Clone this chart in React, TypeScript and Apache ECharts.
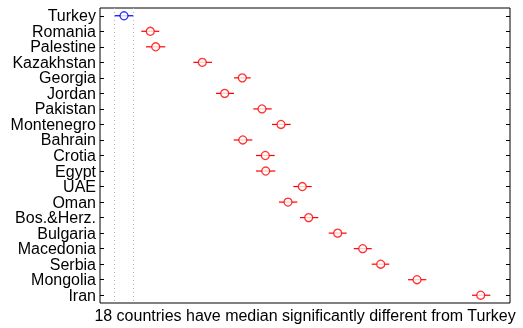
import React, { useEffect, useRef } from "react";
import * as echarts from "echarts";

const countries = [
  "Turkey", "Romania", "Palestine", "Kazakhstan", "Georgia", "Jordan", "Pakistan",
  "Montenegro", "Bahrain", "Crotia", "Egypt", "UAE", "Oman", "Bos.&Herz.",
  "Bulgaria", "Macedonia", "Serbia", "Mongolia", "Iran",
];
const medians = [
  24, 50.3, 55.7, 102.3, 142.3, 124.7, 162, 181, 142.8, 165.3, 165.7, 202.3, 188,
  208.7, 237.7, 262.7, 280.7, 317, 380.7,
];
const lows = [
  14.6, 41.3, 46, 93.3, 134, 116, 153.3, 172, 133.7, 156, 156, 193.3, 179, 200,
  228.7, 253.7, 271.7, 308, 372,
];
const highs = [
  33.3, 59.3, 65.3, 112, 150.7, 134, 171.7, 190.7, 152.3, 174.7, 175.3, 211.7,
  197.3, 218.3, 246.7, 271.7, 289.3, 326.3, 390.3,
];
const xTitle = "18 countries have median significantly different from Turkey";
const reference = "Turkey";

export default function App() {
  const ref = useRef<HTMLDivElement>(null);
  useEffect(() => {
    if (!ref.current) return;
    const chart = echarts.init(ref.current, undefined, { renderer: "svg" });
    const refIdx = countries.indexOf(reference);
    const colorOf = (i: number) => (i === refIdx ? "#0000ff" : "#ff0000");
    const font = "'Liberation Sans', Arial, sans-serif";
    const tick = {
      show: true,
      inside: true,
      length: 4,
      interval: 0,
      alignWithLabel: true,
      lineStyle: { color: "#000" },
    };
    chart.setOption({
      animation: false,
      grid: {
        left: 100,
        right: 13,
        top: 8,
        bottom: 25,
        show: true,
        borderColor: "#000",
        borderWidth: 1,
        backgroundColor: "transparent",
      },
      xAxis: {
        type: "value",
        min: 0,
        max: 410,
        splitLine: { show: false },
        axisLine: { show: false },
        axisTick: { show: false },
        axisLabel: { show: false },
        name: xTitle,
        nameLocation: "middle",
        nameGap: 4,
        nameTextStyle: {
          color: "#000",
          fontSize: 16,
          fontFamily: font,
          verticalAlign: "top",
        },
      },
      yAxis: [
        {
          type: "category",
          data: countries,
          inverse: true,
          boundaryGap: true,
          axisLine: { show: false },
          axisTick: tick,
          axisLabel: {
            interval: 0,
            color: "#000",
            fontSize: 16,
            fontFamily: font,
            margin: 4,
          },
          splitLine: { show: false },
        },
        {
          type: "category",
          data: countries,
          inverse: true,
          position: "right",
          boundaryGap: true,
          axisLine: { show: false },
          axisTick: tick,
          axisLabel: { show: false, interval: 0 },
          splitLine: { show: false },
        },
      ],
      series: [
        {
          type: "custom",
          yAxisIndex: 0,
          dimensions: [
            { name: "lo", type: "float" },
            { name: "hi", type: "float" },
            { name: "row", type: "int" },
          ],
          encode: { x: [0, 1], y: 2 },
          data: countries.map((_, i) => [lows[i], highs[i], i]),
          renderItem: (params: any, api: any) => {
            const i = api.value(2);
            const p1 = api.coord([api.value(0), i]);
            const p2 = api.coord([api.value(1), i]);
            return {
              type: "line",
              shape: { x1: p1[0], y1: p1[1], x2: p2[0], y2: p2[1] },
              style: { stroke: colorOf(params.dataIndex), lineWidth: 1.2 },
            };
          },
          z: 2,
        },
        {
          type: "scatter",
          yAxisIndex: 0,
          symbol: "circle",
          symbolSize: 8,
          data: countries.map((c, i) => ({
            value: [medians[i], c],
            itemStyle: {
              color: "#ffffff",
              borderColor: colorOf(i),
              borderWidth: 1.3,
            },
          })),
          markLine: {
            silent: true,
            symbol: "none",
            label: { show: false },
            lineStyle: { type: [1, 3], color: "#b8b8b8", width: 1 },
            data: [{ xAxis: lows[refIdx] }, { xAxis: highs[refIdx] }],
          },
          z: 3,
        },
      ],
    });
    return () => chart.dispose();
  }, []);
  return (
    <div
      ref={ref}
      style={{ position: "fixed", left: 0, top: 0, width: 523, height: 328 }}
    />
  );
}
